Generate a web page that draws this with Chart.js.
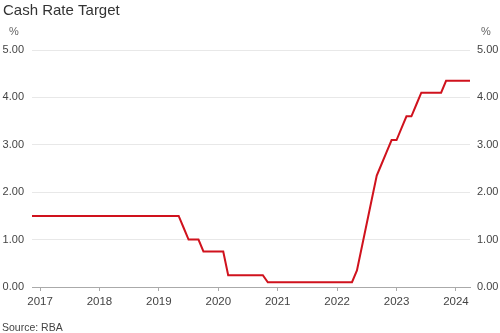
<!DOCTYPE html>
<html>
<head>
<meta charset="utf-8">
<script src="https://cdn.jsdelivr.net/npm/chart.js@4/dist/chart.umd.min.js"></script>
<style>
  html, body { margin: 0; padding: 0; background: #fff; }
  #wrap { width: 500px; height: 333px; position: relative; }
</style>
</head>
<body>
<div id="wrap"><canvas id="cashRateChart" width="500" height="333"></canvas></div>
<script>
// Month of each observation (plotted at the start of the month)
const months = [
  "2016-11", "2016-12",
  "2017-01", "2017-02", "2017-03", "2017-04", "2017-05", "2017-06", "2017-07", "2017-08", "2017-09", "2017-10", "2017-11", "2017-12",
  "2018-01", "2018-02", "2018-03", "2018-04", "2018-05", "2018-06", "2018-07", "2018-08", "2018-09", "2018-10", "2018-11", "2018-12",
  "2019-01", "2019-02", "2019-03", "2019-04", "2019-05", "2019-06", "2019-07", "2019-08", "2019-09", "2019-10", "2019-11", "2019-12",
  "2020-01", "2020-02", "2020-03", "2020-04", "2020-05", "2020-06", "2020-07", "2020-08", "2020-09", "2020-10", "2020-11", "2020-12",
  "2021-01", "2021-02", "2021-03", "2021-04", "2021-05", "2021-06", "2021-07", "2021-08", "2021-09", "2021-10", "2021-11", "2021-12",
  "2022-01", "2022-02", "2022-03", "2022-04", "2022-05", "2022-06", "2022-07", "2022-08", "2022-09", "2022-10", "2022-11", "2022-12",
  "2023-01", "2023-02", "2023-03", "2023-04", "2023-05", "2023-06", "2023-07", "2023-08", "2023-09", "2023-10", "2023-11", "2023-12",
  "2024-01", "2024-02", "2024-03", "2024-04",
];

// Cash rate target (%), end of month
const cashRate = [
  1.5, 1.5,
  1.5, 1.5, 1.5, 1.5, 1.5, 1.5, 1.5, 1.5, 1.5, 1.5, 1.5, 1.5,
  1.5, 1.5, 1.5, 1.5, 1.5, 1.5, 1.5, 1.5, 1.5, 1.5, 1.5, 1.5,
  1.5, 1.5, 1.5, 1.5, 1.5, 1.25, 1.0, 1.0, 1.0, 0.75, 0.75, 0.75,
  0.75, 0.75, 0.25, 0.25, 0.25, 0.25, 0.25, 0.25, 0.25, 0.25, 0.1, 0.1,
  0.1, 0.1, 0.1, 0.1, 0.1, 0.1, 0.1, 0.1, 0.1, 0.1, 0.1, 0.1,
  0.1, 0.1, 0.1, 0.1, 0.35, 0.85, 1.35, 1.85, 2.35, 2.6, 2.85, 3.1,
  3.1, 3.35, 3.6, 3.6, 3.85, 4.1, 4.1, 4.1, 4.1, 4.1, 4.35, 4.35,
  4.35, 4.35, 4.35, 4.35,
];

const yearTicks = [2017, 2018, 2019, 2020, 2021, 2022, 2023, 2024];
const rateTicks = [0, 1, 2, 3, 4, 5];

const FONT = "'Liberation Sans', Arial, sans-serif";
const TEXT = "#444";

// Convert "YYYY-MM" to a decimal year
function monthToYear(m) {
  const [y, mo] = m.split("-").map(Number);
  return y + (mo - 1) / 12;
}

const points = months.map((m, i) => ({ x: monthToYear(m), y: cashRate[i] }));

// Title, "%" unit labels and source note
const annotations = {
  id: "annotations",
  afterDraw(chart) {
    const ctx = chart.ctx;
    ctx.save();
    ctx.fillStyle = "#333";
    ctx.font = "15px " + FONT;
    ctx.textBaseline = "alphabetic";
    ctx.textAlign = "left";
    ctx.fillText("Cash Rate Target", 3, 15);

    ctx.fillStyle = "#666";
    ctx.font = "11px " + FONT;
    ctx.textBaseline = "middle";
    ctx.textAlign = "center";
    ctx.fillText("%", 14, 32);
    ctx.fillText("%", 486, 32);

    ctx.fillStyle = TEXT;
    ctx.font = "10.5px " + FONT;
    ctx.textAlign = "left";
    ctx.fillText("Source: RBA", 2, 328);
    ctx.restore();
  },
};

new Chart(document.getElementById("cashRateChart"), {
  type: "line",
  data: {
    datasets: [
      {
        label: "Cash Rate Target",
        data: points,
        borderColor: "#d0121d",
        borderWidth: 2,
        pointRadius: 0,
        tension: 0,
        clip: 0,
        yAxisID: "y",
      },
    ],
  },
  options: {
    responsive: false,
    animation: false,
    events: [],
    layout: { padding: { top: 50, bottom: 20, left: 0, right: 0 } },
    plugins: {
      legend: { display: false },
      title: { display: false },
      tooltip: { enabled: false },
    },
    scales: {
      x: {
        type: "linear",
        min: 2016.865,
        max: 2024.236,
        afterBuildTicks: (axis) => {
          axis.ticks = yearTicks.map((v) => ({ value: v }));
        },
        afterFit: (axis) => {
          axis.height = 26;
        },
        grid: {
          drawOnChartArea: false,
          drawTicks: true,
          tickLength: 4,
          color: "#aaa",
        },
        border: { display: true, color: "#aaa" },
        ticks: {
          color: TEXT,
          font: { family: FONT, size: 11.5 },
          padding: 4,
          maxRotation: 0,
          callback: (v) => String(v),
        },
      },
      y: {
        position: "left",
        min: 0,
        max: 5,
        afterBuildTicks: (axis) => {
          axis.ticks = rateTicks.map((v) => ({ value: v }));
        },
        afterFit: (axis) => {
          axis.width = 32;
        },
        grid: { color: "#e8e8e8", drawTicks: false },
        border: { display: false },
        ticks: {
          color: TEXT,
          font: { family: FONT, size: 11 },
          padding: 8,
          callback: (v) => v.toFixed(2),
        },
      },
      y2: {
        position: "right",
        min: 0,
        max: 5,
        afterBuildTicks: (axis) => {
          axis.ticks = rateTicks.map((v) => ({ value: v }));
        },
        afterFit: (axis) => {
          axis.width = 30;
        },
        grid: { display: false, drawTicks: false },
        border: { display: false },
        ticks: {
          color: TEXT,
          font: { family: FONT, size: 11 },
          padding: 7,
          callback: (v) => v.toFixed(2),
        },
      },
    },
  },
  plugins: [annotations],
});
</script>
</body>
</html>
